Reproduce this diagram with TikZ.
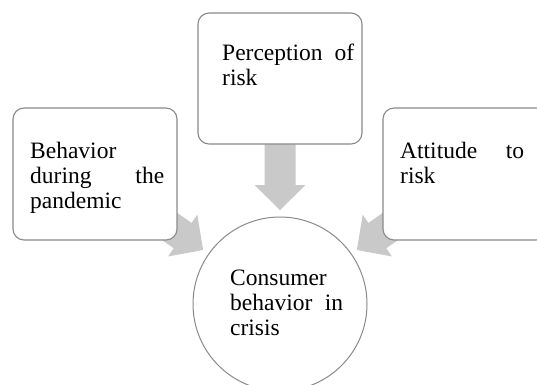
\documentclass[tikz,border=0pt]{standalone}
\usepackage{fontspec}
\setmainfont{Liberation Serif}
\usetikzlibrary{calc,backgrounds}
\definecolor{edgegray}{HTML}{8A8A8A}
\definecolor{arrowgray}{HTML}{C9C9C9}
\newcommand{\convarrow}[2]{%
  \path ($(#2.center)!94pt!(#1.center)$) coordinate (tip-#1)
        ($(#2.center)!119pt!(#1.center)$) coordinate (hb-#1);
  \fill[arrowgray] (tip-#1)
    -- ($(hb-#1)!25.5pt!90:(tip-#1)$)
    -- ($(hb-#1)!15.5pt!90:(tip-#1)$)
    -- ($(#1.center)!15.5pt!90:(tip-#1)$)
    -- ($(#1.center)!15.5pt!-90:(tip-#1)$)
    -- ($(hb-#1)!15.5pt!-90:(tip-#1)$)
    -- ($(hb-#1)!25.5pt!-90:(tip-#1)$)
    -- cycle;}
\begin{document}
\begin{tikzpicture}[x=1pt,y=-1pt,
  box/.style={draw=edgegray, line width=1.1pt, rounded corners=11pt, fill=white,
    minimum width=164pt, minimum height=132pt, inner sep=0pt},
  hub/.style={circle, draw=edgegray, line width=1pt, fill=white,
    minimum size=174pt, inner sep=0pt},
  lbl/.style={anchor=base west, inner sep=0pt, align=left,
    font=\fontsize{23.5}{25}\selectfont}]
\useasboundingbox (0,0) rectangle (537,384);
\clip (0,0) rectangle (537,384);
% boxes and hub
\node[box] (left) at (95,174) {};
\node[box, minimum height=131pt] (top) at (280,78.5) {};
\node[box] (right) at (465,174) {};
\node[hub] (hub) at (280,304) {};
% arrows behind
\begin{scope}[on background layer]
  \fill[white] (0,0) rectangle (537,384);
  \convarrow{left}{hub}
  \convarrow{top}{hub}
  \convarrow{right}{hub}
\end{scope}
% labels
\node[lbl, text width=134pt] (tleft) at (30,158) {Behavior\\during\hfill the\\pandemic};
\node[lbl, text width=132pt] (ttop) at (222,60) {Perception\hfill of\\risk};
\node[lbl, text width=124pt] (tright) at (400,158) {Attitude\hfill to\\risk};
\node[lbl, text width=113pt] (thub) at (230,285) {Consumer\\behavior\hfill in\\crisis};
\end{tikzpicture}
\end{document}
